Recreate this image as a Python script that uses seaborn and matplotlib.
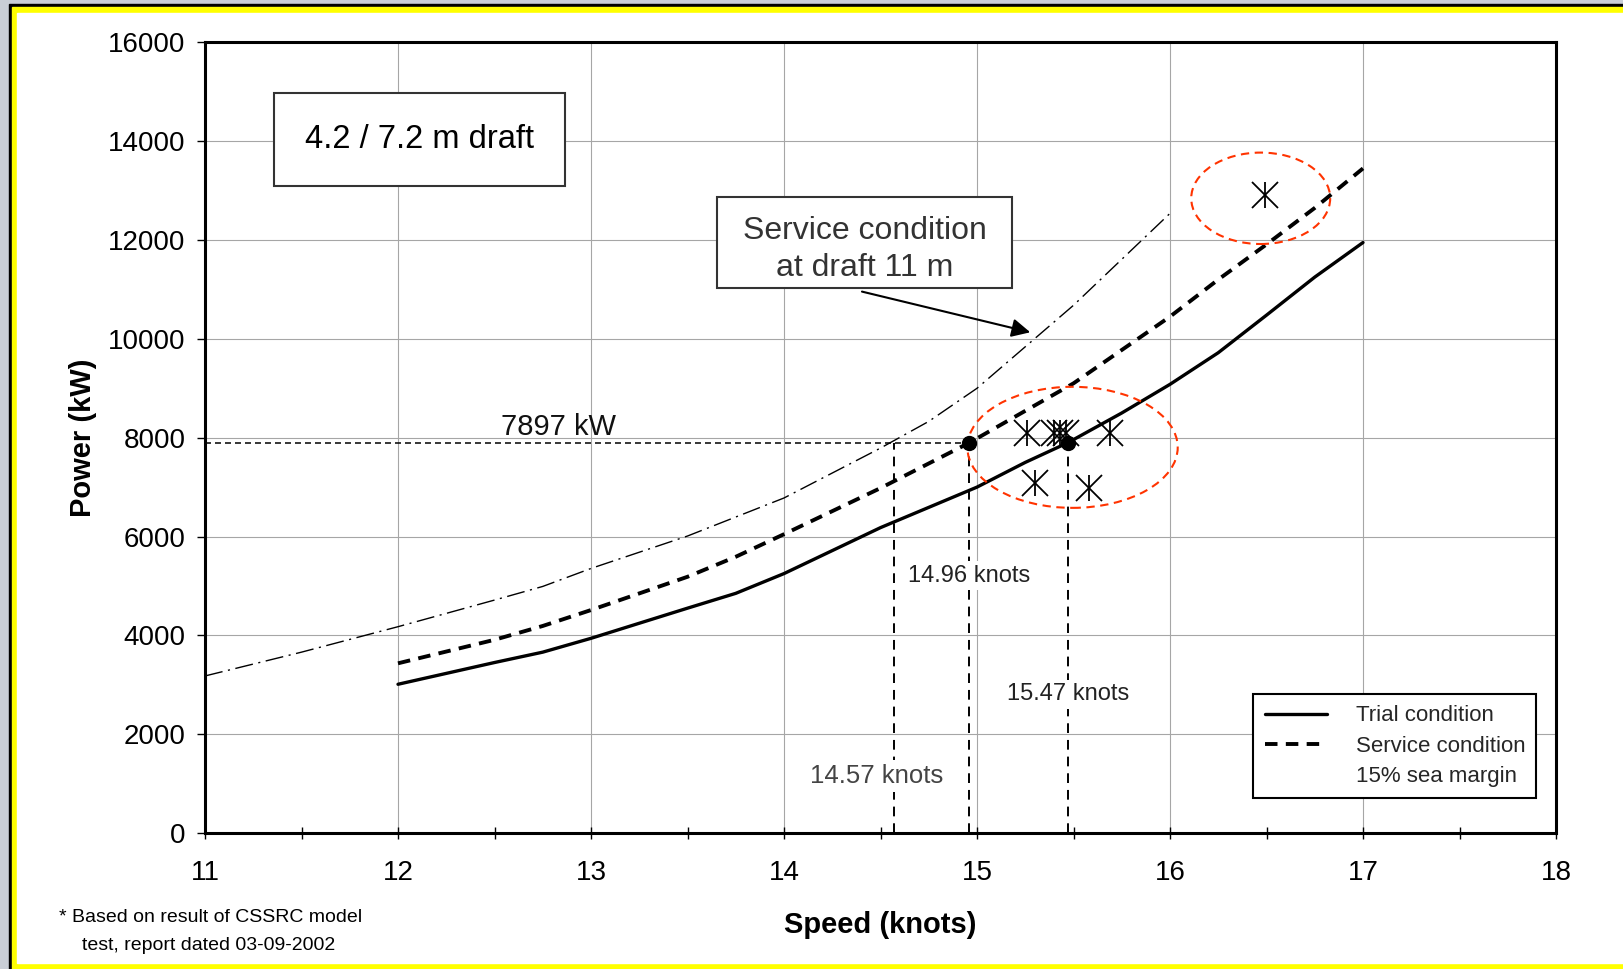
import matplotlib
matplotlib.use("Agg")
import matplotlib.pyplot as plt
import seaborn as sns
from matplotlib.patches import Ellipse, Rectangle
from matplotlib.lines import Line2D

# trial condition curve (solid)
trial_speed = [12, 12.5, 12.75, 13, 13.5, 13.75, 14, 14.5, 15, 15.25, 15.47, 15.75, 16, 16.25, 16.5, 16.75, 17]
trial_power = [3010, 3450, 3660, 3940, 4550, 4850, 5250, 6180, 7000, 7500, 7897, 8500, 9080, 9720, 10480, 11250, 11950]

# service condition, 15% sea margin (dashed)
service_speed = [12, 12.5, 12.75, 13, 13.5, 13.75, 14, 14.5, 14.96, 15.5, 16, 16.25, 16.5, 16.75, 17]
service_power = [3434, 3910, 4190, 4512, 5185, 5590, 6047, 6980, 7897, 9100, 10450, 11200, 11912, 12650, 13450]

# service condition at draft 11 m (dash-dot)
draft11_speed = [11, 11.5, 12, 12.5, 12.75, 13, 13.5, 14, 14.5, 14.75, 15, 15.5, 16]
draft11_power = [3178, 3660, 4175, 4714, 4990, 5354, 6010, 6780, 7790, 8330, 9000, 10680, 12540]

# sea trial results (asterisks)
trial_pts_speed = [15.26, 15.40, 15.43, 15.46, 15.69, 15.30, 15.58, 16.49]
trial_pts_power = [8090, 8090, 8090, 8090, 8090, 7090, 6980, 12910]

ref_power = 7897
ref_speeds = [14.57, 14.96, 15.47]
dot_speeds = [14.96, 15.47]

sns.set_theme(style="white")
plt.rcParams["font.family"] = ["Liberation Sans", "DejaVu Sans"]
plt.rcParams["lines.scale_dashes"] = False

fig = plt.figure(figsize=(16.23, 9.69), dpi=100)
W, H = 1623, 969
fig.patch.set_facecolor("#c9ced6")
# frame: black line, yellow border, white page
fig.add_artist(Rectangle((9 / W, 0), 1, (H - 4) / H, transform=fig.transFigure, color="black", zorder=-10))
fig.add_artist(Rectangle((12 / W, 0), 1, (H - 7) / H, transform=fig.transFigure, color="#ffff00", zorder=-9))
fig.add_artist(Rectangle((17 / W, 6 / H), 1, (H - 19) / H, transform=fig.transFigure, color="white", zorder=-8))

ax = fig.add_axes([205 / W, 1 - 833 / H, (1556 - 205) / W, (833 - 42.4) / H])

# curves
sns.lineplot(x=draft11_speed, y=draft11_power, ax=ax, color="black", lw=1.0,
             linestyle=(0, (13, 4, 1.5, 4)), sort=False)
sns.lineplot(x=service_speed, y=service_power, ax=ax, color="black", lw=2.8,
             linestyle=(0, (9, 6)), sort=False)
sns.lineplot(x=trial_speed, y=trial_power, ax=ax, color="black", lw=2.4, sort=False)

# reference lines for 7897 kW
ax.plot([11, dot_speeds[0]], [ref_power, ref_power], color="black", lw=1.1, linestyle=(0, (4.3, 2.9)))
for s in ref_speeds:
    ax.plot([s, s], [0, ref_power], color="black", lw=1.4, linestyle=(0, (7, 5)))
ax.plot(dot_speeds, [ref_power] * len(dot_speeds), "o", color="black", ms=10, ls="none", zorder=6)

# sea trial markers
ax.plot(trial_pts_speed, trial_pts_power, "x", color="black", ms=19, mew=1.3, ls="none", zorder=5)
ax.plot(trial_pts_speed, trial_pts_power, "|", color="black", ms=19, mew=1.3, ls="none", zorder=5)

# red dashed ellipses
for c, w, h in [((15.495, 7805), 1.09, 2450), ((16.47, 12845), 0.72, 1850)]:
    ax.add_patch(Ellipse(c, w, h, fill=False, edgecolor="#ff3300", lw=1.5,
                         linestyle=(0, (6, 4)), zorder=4))

# annotations
ax.text(12.11, 14030, "4.2 / 7.2 m draft", fontsize=23.5, ha="center", va="center", color="black",
        bbox=dict(boxstyle="square,pad=0.95", fc="white", ec="#333333", lw=1.5))
ax.add_patch(Rectangle((13.653, 11026), 15.181 - 13.653, 12867 - 11026, fc="white",
                       ec="#333333", lw=1.5, zorder=6))
ax.text(14.42, 11805, "Service condition\nat draft 11 m", fontsize=23, ha="center", va="center",
        color="#333333", linespacing=1.3, zorder=7)
ax.annotate("", xy=(15.29, 10120), xytext=(14.39, 10970),
            arrowprops=dict(arrowstyle="-|>", color="black", lw=1.5, mutation_scale=28))
ax.text(12.83, 8220, "7897 kW", fontsize=21, ha="center", va="center", color="#111111")
lbl_box = dict(boxstyle="square,pad=0.15", fc="white", ec="none")
ax.text(14.96, 5210, "14.96 knots", fontsize=17, ha="center", va="center", color="#222222", bbox=lbl_box, zorder=7)
ax.text(15.47, 2810, "15.47 knots", fontsize=17, ha="center", va="center", color="#222222", bbox=lbl_box, zorder=7)
ax.text(14.48, 1150, "14.57 knots", fontsize=18.5, ha="center", va="center", color="#444444", bbox=lbl_box, zorder=7)

# axes styling
ax.set_xlim(11, 18)
ax.set_ylim(0, 16000)
ax.set_xticks(range(11, 19))
ax.set_xticks([x + 0.5 for x in range(11, 18)], minor=True)
ax.set_yticks(range(0, 16001, 2000))
ax.grid(True, which="major", color="#a6a6a6", lw=0.8)
for sp in ax.spines.values():
    sp.set_color("black")
    sp.set_linewidth(2.2)
ax.tick_params(axis="x", which="both", direction="inout", length=9, width=1, colors="black",
               labelsize=20, pad=15, bottom=True)
ax.tick_params(axis="y", which="major", direction="out", length=6, width=1, colors="black",
               labelsize=20, pad=8, left=True)
ax.set_xlabel("Speed (knots)", fontsize=21, fontweight="bold", labelpad=18, color="black")
ax.set_ylabel("Power (kW)", fontsize=21, fontweight="bold", labelpad=8, color="black")

handles = [Line2D([], [], color="black", lw=2.4),
           Line2D([], [], color="black", lw=2.8, linestyle=(0, (9, 6))),
           Line2D([], [], color="none")]
leg = ax.legend(handles, ["Trial condition", "Service condition", "15% sea margin"],
                loc="lower right", bbox_to_anchor=(0.9855, 0.044), fontsize=16,
                handlelength=2.8, handletextpad=1.3, labelspacing=0.42,
                frameon=True, fancybox=False, edgecolor="black", framealpha=1,
                borderpad=0.5, borderaxespad=0)
leg.get_frame().set_linewidth(1.5)

fig.text(59 / W, 1 - 918 / H, "* Based on result of CSSRC model", fontsize=14, ha="left", va="center", color="black")
fig.text(82 / W, 1 - 946 / H, "test, report dated 03-09-2002", fontsize=14, ha="left", va="center", color="black")

fig.savefig("out.png", dpi=100, facecolor=fig.get_facecolor())
